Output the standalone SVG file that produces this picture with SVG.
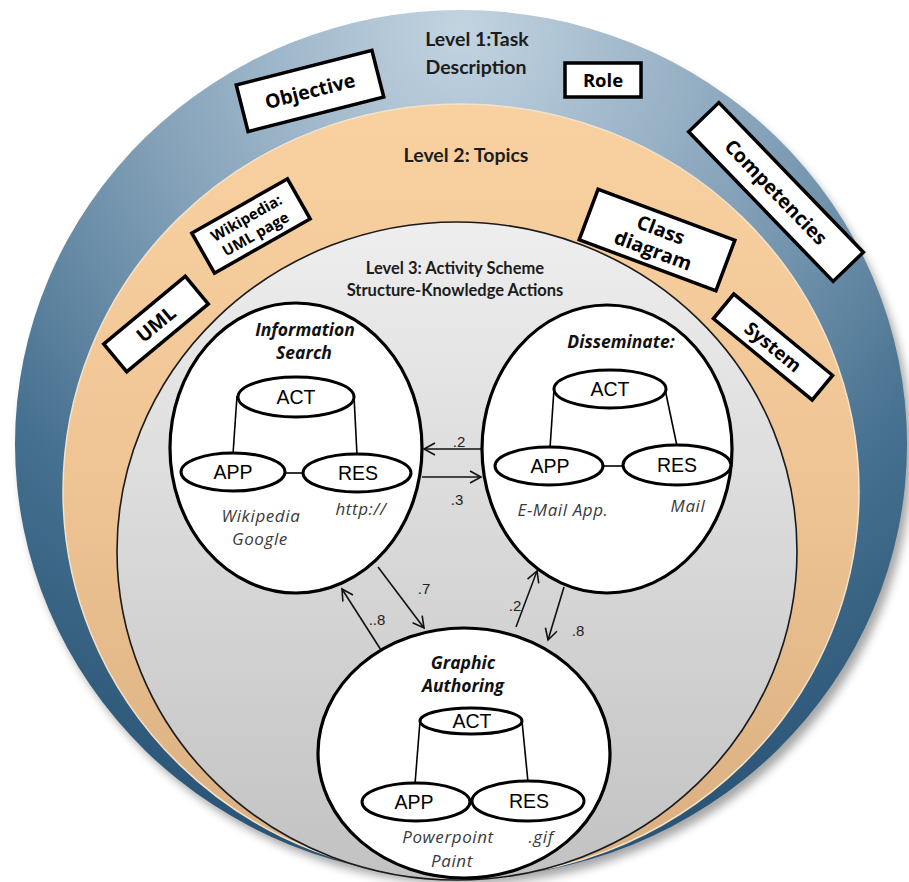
<svg xmlns="http://www.w3.org/2000/svg" width="909" height="882" viewBox="0 0 909 882">
<defs>
  <radialGradient id="gBlue" gradientUnits="userSpaceOnUse" cx="461" cy="30" r="820">
    <stop offset="0" stop-color="#c3d4e1"/>
    <stop offset="0.38" stop-color="#86a3ba"/>
    <stop offset="0.72" stop-color="#45708f"/>
    <stop offset="1" stop-color="#2b5576"/>
  </radialGradient>
  <linearGradient id="gOrange" x1="0" y1="0" x2="0" y2="1">
    <stop offset="0" stop-color="#f9d1a0"/>
    <stop offset="0.5" stop-color="#efc494"/>
    <stop offset="1" stop-color="#d9ae80"/>
  </linearGradient>
  <linearGradient id="gGray" x1="0" y1="0" x2="0" y2="1">
    <stop offset="0" stop-color="#eeeeee"/>
    <stop offset="0.5" stop-color="#d8d8d8"/>
    <stop offset="1" stop-color="#c2c2c2"/>
  </linearGradient>
  <filter id="shadow" x="-10%" y="-10%" width="120%" height="120%">
    <feGaussianBlur stdDeviation="5"/>
  </filter>
  <marker id="arr" viewBox="0 0 14 14" refX="12" refY="7" markerWidth="14" markerHeight="14" markerUnits="userSpaceOnUse" orient="auto">
    <path d="M1,1 L12,7 L1,13" fill="none" stroke="#111" stroke-width="1.6"/>
  </marker>
  <style>
    .lvl{font-family:Lato,"Liberation Sans",sans-serif;font-weight:700;font-size:19.5px;fill:#1c1c1c;text-anchor:middle}
    .lvl3{font-size:16.5px}
    .box rect{fill:#fff;stroke:#000;stroke-width:3.5}
    .box text{font-family:"Open Sans","Liberation Sans",sans-serif;font-weight:700;fill:#000;text-anchor:middle}
    .node{fill:#fff;stroke:#000;stroke-width:3.2}
    .sub{fill:#fff;stroke:#000;stroke-width:3}
    .leg{stroke:#000;stroke-width:1.6;fill:none}
    .abbr{font-family:"Liberation Sans",Arial,sans-serif;font-size:19.5px;fill:#000;text-anchor:middle}
    .title{font-family:"Open Sans","Liberation Sans",sans-serif;font-weight:700;font-style:italic;font-size:17.5px;fill:#111;text-anchor:middle}
    .ex{font-family:"Open Sans","Liberation Sans",sans-serif;font-style:italic;font-size:17px;letter-spacing:0.6px;fill:#3a3a3a;text-anchor:middle}
    .conn line{stroke:#111;stroke-width:1.6;marker-end:url(#arr)}
    .num{font-family:"Liberation Sans",Arial,sans-serif;font-size:15px;fill:#222;text-anchor:middle}
  </style>
</defs>

<!-- rings -->
<g id="rings">
  <ellipse cx="466" cy="452" rx="446" ry="432" fill="#000" opacity="0.35" filter="url(#shadow)"/>
  <ellipse id="level1" cx="461" cy="444" rx="446" ry="434" fill="url(#gBlue)"/>
  <ellipse id="level2" cx="461" cy="491" rx="398" ry="387" fill="url(#gOrange)" stroke="#f3e2cc" stroke-width="1.5"/>
  <ellipse id="level3" cx="457" cy="551" rx="340" ry="329" fill="url(#gGray)" stroke="#1a1a1a" stroke-width="1.6"/>
</g>

<g id="levelLabels">
  <text class="lvl" x="477" y="46">Level 1:Task</text>
  <text class="lvl" x="476" y="74">Description</text>
  <text class="lvl" x="466" y="162">Level 2: Topics</text>
  <text class="lvl lvl3" x="455" y="274">Level 3: Activity Scheme</text>
  <text class="lvl lvl3" x="455" y="296">Structure-Knowledge Actions</text>
</g>

<!-- level 1 boxes -->
<g id="objective" class="box" transform="translate(310,91) rotate(-14.3)">
  <rect x="-70" y="-24" width="140" height="48"/>
  <text x="0" y="7" font-size="19.5">Objective</text>
</g>
<g id="role" class="box" transform="translate(603,80)">
  <rect x="-38" y="-17" width="76" height="34"/>
  <text x="0" y="6.5" font-size="18.5">Role</text>
</g>
<g id="competencies" class="box" transform="translate(776,192) rotate(46)">
  <rect x="-104" y="-21" width="208" height="42"/>
  <text x="0" y="7" font-size="19.5">Competencies</text>
</g>

<!-- level 2 boxes -->
<g id="wikipedia-uml" class="box" transform="translate(251,226) rotate(-29.6)">
  <rect x="-55" y="-23" width="110" height="46"/>
  <text x="0" y="-4" font-size="15">Wikipedia:</text>
  <text x="0" y="14.5" font-size="15">UML page</text>
</g>
<g id="uml" class="box" transform="translate(156,324) rotate(-39.7)">
  <rect x="-53" y="-18" width="106" height="36"/>
  <text x="0" y="7" font-size="19.5">UML</text>
</g>
<g id="class-diagram" class="box" transform="translate(657,240) rotate(20.5)">
  <rect x="-73" y="-27" width="146" height="54"/>
  <text x="0" y="-4" font-size="19.5">Class</text>
  <text x="0" y="18" font-size="19.5">diagram</text>
</g>
<g id="system" class="box" transform="translate(773,347) rotate(39.5)">
  <rect x="-64" y="-16" width="128" height="32"/>
  <text x="0" y="6.5" font-size="18.5">System</text>
</g>

<!-- connectors -->
<g id="connectors" class="conn">
  <line x1="482" y1="449" x2="424" y2="449"/>
  <line x1="422" y1="477" x2="481" y2="477"/>
  <line x1="378" y1="567" x2="424" y2="628"/>
  <line x1="381" y1="650" x2="342" y2="589"/>
  <line x1="516" y1="627" x2="537" y2="571"/>
  <line x1="564" y1="587" x2="548" y2="640"/>
</g>
<g id="connectorLabels">
  <text class="num" x="459" y="447">.2</text>
  <text class="num" x="457" y="505">.3</text>
  <text class="num" x="424" y="594">.7</text>
  <text class="num" x="377" y="625">..8</text>
  <text class="num" x="515" y="611">.2</text>
  <text class="num" x="578" y="636">.8</text>
</g>

<!-- activity nodes -->
<g id="information-search">
  <ellipse class="node" cx="296" cy="448" rx="126" ry="145"/>
  <text class="title" x="305" y="336">Information</text>
  <text class="title" x="304" y="359">Search</text>
  <line class="leg" x1="237" y1="396" x2="233" y2="454"/>
  <line class="leg" x1="354" y1="396" x2="357" y2="455"/>
  <line class="leg" x1="285" y1="473" x2="303" y2="473"/>
  <ellipse class="sub" cx="296" cy="397" rx="58" ry="20"/>
  <text class="abbr" x="296" y="404">ACT</text>
  <ellipse class="sub" cx="233" cy="472" rx="52" ry="19"/>
  <text class="abbr" x="233" y="479">APP</text>
  <ellipse class="sub" cx="357" cy="473" rx="54" ry="19"/>
  <text class="abbr" x="358" y="480">RES</text>
  <text class="ex" x="261" y="522">Wikipedia</text>
  <text class="ex" x="260" y="545">Google</text>
  <text class="ex" x="361" y="515">http://</text>
</g>

<g id="disseminate">
  <ellipse class="node" cx="607" cy="449" rx="125" ry="144"/>
  <text class="title" x="621" y="348">Disseminate:</text>
  <line class="leg" x1="554" y1="389" x2="550" y2="448"/>
  <line class="leg" x1="665" y1="389" x2="677" y2="446"/>
  <line class="leg" x1="603" y1="466" x2="623" y2="466"/>
  <ellipse class="sub" cx="610" cy="389" rx="56" ry="19"/>
  <text class="abbr" x="610" y="396">ACT</text>
  <ellipse class="sub" cx="549" cy="466" rx="54" ry="19"/>
  <text class="abbr" x="550" y="473">APP</text>
  <ellipse class="sub" cx="677" cy="465" rx="54" ry="20"/>
  <text class="abbr" x="677" y="472">RES</text>
  <text class="ex" x="563" y="516">E-Mail App.</text>
  <text class="ex" x="688" y="512">Mail</text>
</g>

<g id="graphic-authoring">
  <ellipse class="node" cx="464" cy="753" rx="146" ry="125"/>
  <text class="title" x="463" y="669">Graphic</text>
  <text class="title" x="463" y="692">Authoring</text>
  <line class="leg" x1="420" y1="721" x2="415" y2="784"/>
  <line class="leg" x1="522" y1="721" x2="528" y2="782"/>
  <ellipse class="sub" cx="471" cy="721" rx="51" ry="13"/>
  <text class="abbr" x="472" y="728">ACT</text>
  <ellipse class="sub" cx="416" cy="802" rx="54" ry="19"/>
  <text class="abbr" x="414" y="809">APP</text>
  <ellipse class="sub" cx="528" cy="801" rx="56" ry="20"/>
  <text class="abbr" x="529" y="808">RES</text>
  <text class="ex" x="448" y="843">Powerpoint</text>
  <text class="ex" x="541" y="843">.gif</text>
  <text class="ex" x="452" y="867">Paint</text>
</g>
</svg>
